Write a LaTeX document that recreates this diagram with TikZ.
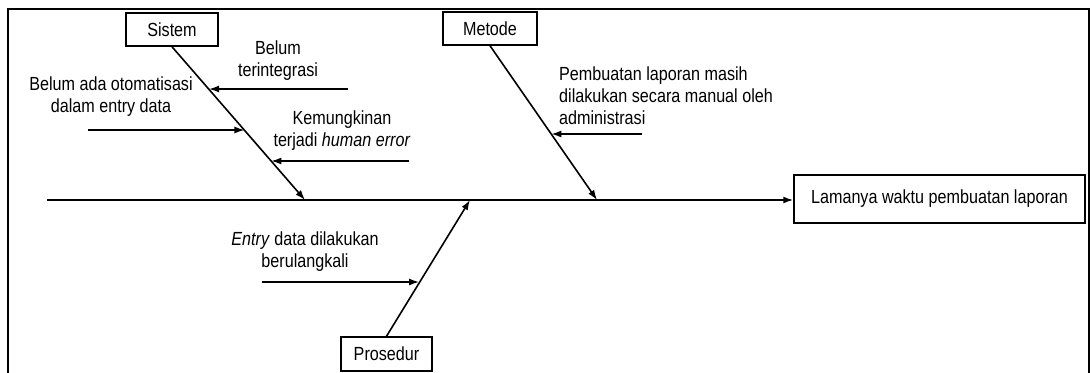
\documentclass[tikz,border=0pt]{standalone}
\usepackage{fontspec}
\setmainfont{Liberation Sans}[FakeStretch=0.85]
\usetikzlibrary{arrows.meta,calc}
\begin{document}
\begin{tikzpicture}[x=1pt,y=-1pt,
  box/.style={draw,line width=1.5pt,inner sep=0pt,font=\fontsize{19}{22}\selectfont},
  lbl/.style={inner sep=0pt,align=center,font=\fontsize{19}{22}\selectfont},
  bone/.style={line width=1.6pt,-{Latex[length=10pt,width=7pt]}},
  sub/.style={line width=1.4pt,-{Latex[length=10pt,width=7pt]}}]
\useasboundingbox (0,0) rectangle (1091,372);
% frame
\draw[line width=2pt] (7.5,390) -- (7.5,9) -- (1089,9) -- (1089,390);
% boxes
\node[box,minimum width=92pt,minimum height=33pt] (sistem) at (172,29.5) {Sistem};
\node[box,minimum width=94pt,minimum height=33pt] (metode) at (490,28.5) {Metode};
\node[box,minimum width=291pt,minimum height=48pt] (effect) at (939.5,199) {Lamanya waktu pembuatan laporan};
\node[box,minimum width=91pt,minimum height=34pt] (prosedur) at (386.5,354) {Prosedur};
% spine
\coordinate (spine) at (47,200);
\draw[bone] (spine) -- (effect.west |- spine);
% bone tips on spine
\coordinate (sT) at (305,200);
\coordinate (mT) at (597,200);
\coordinate (pT) at (470,200);
\draw[bone] (sistem.south) -- (sT);
\draw[bone] (metode.south) -- (mT);
\draw[bone] (prosedur.north) -- (pT);
% sub-cause tips
\coordinate (s1) at ($(sistem.south)!0.279!(sT)$);
\coordinate (s2) at ($(sistem.south)!0.545!(sT)$);
\coordinate (s3) at ($(sistem.south)!0.747!(sT)$);
\coordinate (m1) at ($(metode.south)!0.574!(mT)$);
\coordinate (p1) at ($(prosedur.north)!0.39!(pT)$);
% sub-cause starts
\coordinate (s1a) at (348,89);
\coordinate (s2a) at (88,130);
\coordinate (s3a) at (409,161);
\coordinate (m1a) at (642,134);
\coordinate (p1a) at (262,282);
\draw[sub] (s1a) -- (s1a -| s1);
\draw[sub] (s2a) -- (s2a -| s2);
\draw[sub] (s3a) -- (s3a -| s3);
\draw[sub] (m1a) -- (m1a -| m1);
\draw[sub] (p1a) -- (p1a -| p1);
% labels
\node[lbl] (tbelum) at (278,61) {Belum\\terintegrasi};
\node[lbl] (totom) at (111,97) {Belum ada otomatisasi\\dalam entry data};
\node[lbl] (thuman) at (342,131) {Kemungkinan\\terjadi \textit{human error}};
\node[lbl,align=left,anchor=west] (tmetode) at (559,96) {Pembuatan laporan masih\\dilakukan secara manual oleh\\administrasi};
\node[lbl] (tpros) at (305,252) {\textit{Entry} data dilakukan\\berulangkali};
\end{tikzpicture}
\end{document}
